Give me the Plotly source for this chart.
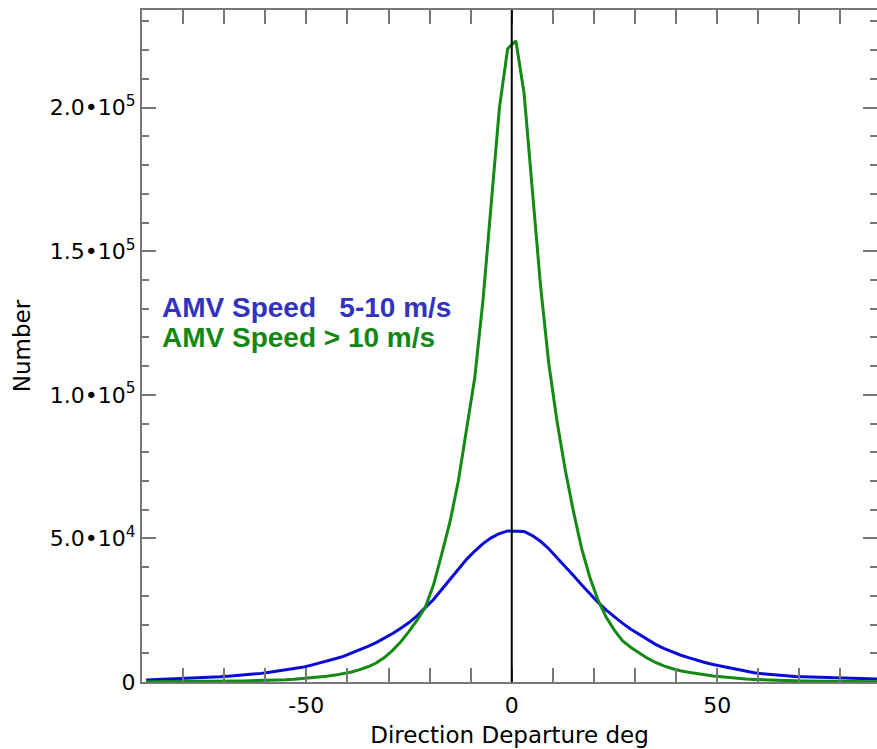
import plotly.graph_objects as go

# bin centres (deg)
direction = list(range(-89, 90, 2))

# AMV speed 5-10 m/s
count_slow = [
    700, 800, 950, 1050, 1200, 1350, 1450, 1550, 1700, 1800,
    2000, 2200, 2400, 2700, 3000, 3400, 3800, 4200, 4700, 5100,
    5800, 6500, 7300, 8100, 8900, 10000, 11200, 12400, 13700, 15200,
    16900, 18700, 20700, 23100, 25800, 28800, 32300, 35900, 39500, 42700,
    45600, 48200, 50200, 51700, 52600,
    52600, 52400, 51000, 49000, 46400, 43400, 40300, 37100, 33900, 30700,
    27700, 25000, 22600, 20400, 18400, 16600, 14800, 13100, 11700, 10500,
    9400, 8500, 7600, 6800, 6100, 5500, 4800, 4200, 3700, 3200,
    2900, 2600, 2300, 2100, 1950, 1800, 1700, 1600, 1500, 1450,
    1400, 1300, 1200, 1100, 1000,
]

# AMV speed > 10 m/s
count_fast = [
    100, 100, 120, 130, 150, 170, 190, 210, 240, 270,
    300, 340, 390, 440, 500, 600, 700, 800, 950, 1150,
    1400, 1700, 2000, 2400, 2900, 3500, 4300, 5300, 6600, 8500,
    11000, 14000, 17600, 21600, 26200, 34000, 44800, 56000, 70000, 88000,
    106000, 133000, 168000, 200000, 220500,
    223300, 205000, 170000, 138000, 111000, 91000, 74000, 59500, 46500, 36500,
    28500, 22500, 18000, 14300, 12000, 10000, 8300, 6800, 5600, 4700,
    3900, 3400, 2900, 2400, 2100, 1800, 1500, 1300, 1050, 900,
    750, 600, 500, 450, 400, 350, 300, 270, 240, 200,
    180, 160, 140, 120, 100,
]

x_tickvals = [-50, 0, 50]
x_ticktext = ["-50", "0", "50"]
y_tickvals = [0, 50000, 100000, 150000, 200000]
y_ticktext = ["0", "5.0•10<sup>4</sup>", "1.0•10<sup>5</sup>",
              "1.5•10<sup>5</sup>", "2.0•10<sup>5</sup>"]

labels = ["AMV Speed   5-10 m/s", "AMV Speed > 10 m/s"]

BLUE = "#0a0ad6"
GREEN = "#138a13"
AXIS = "#777777"
FONT = "DejaVu Sans"

fig = go.Figure()
fig.add_trace(go.Scatter(x=direction, y=count_slow, mode="lines",
                         line=dict(color=BLUE, width=3), showlegend=False))
fig.add_trace(go.Scatter(x=direction, y=count_fast, mode="lines",
                         line=dict(color=GREEN, width=3), showlegend=False))
# dummy trace so the right-hand tick axis gets drawn
fig.add_trace(go.Scatter(x=[None], y=[None], yaxis="y2", showlegend=False))

fig.add_vline(x=0, line=dict(color="black", width=2))

fig.add_annotation(x=0.024, y=0.558, xref="paper", yref="paper", xanchor="left",
                   text=f"<b>{labels[0]}</b>", showarrow=False,
                   font=dict(family="Liberation Sans", size=28, color="#3232c0"))
fig.add_annotation(x=0.024, y=0.512, xref="paper", yref="paper", xanchor="left",
                   text=f"<b>{labels[1]}</b>", showarrow=False,
                   font=dict(family="Liberation Sans", size=28, color="#128712"))

fig.update_layout(
    width=877, height=749,
    margin=dict(l=142, r=0, t=10, b=67),
    paper_bgcolor="white", plot_bgcolor="white",
    font=dict(family=FONT, size=22, color="black"),
    xaxis=dict(
        range=[-90, 88.9], tickvals=x_tickvals, ticktext=x_ticktext,
        ticks="inside", ticklen=14, tickwidth=1.5, tickcolor=AXIS,
        minor=dict(dtick=10, tick0=0, ticks="inside", ticklen=7,
                   tickwidth=1.5, tickcolor=AXIS),
        showline=True, linecolor=AXIS, linewidth=2, mirror="allticks",
        showgrid=False, zeroline=False, ticklabelstandoff=3,
        automargin=False,
        title=dict(text="Direction Departure deg", standoff=9,
                   font=dict(size=23)),
    ),
    yaxis=dict(
        range=[0, 234000], tickvals=y_tickvals, ticktext=y_ticktext,
        ticks="inside", ticklen=14, tickwidth=1.5, tickcolor=AXIS,
        minor=dict(dtick=10000, tick0=0, ticks="inside", ticklen=7,
                   tickwidth=1.5, tickcolor=AXIS),
        showline=True, linecolor=AXIS, linewidth=2,
        showgrid=False, zeroline=False, ticklabelstandoff=0,
        automargin=False,
        title=dict(text="Number", standoff=13, font=dict(size=23)),
    ),
    yaxis2=dict(
        overlaying="y", side="right", matches="y",
        tickvals=y_tickvals, showticklabels=False,
        ticks="inside", ticklen=14, tickwidth=1.5, tickcolor=AXIS,
        minor=dict(dtick=10000, tick0=0, ticks="inside", ticklen=7,
                   tickwidth=1.5, tickcolor=AXIS),
        showline=False, showgrid=False, zeroline=False, automargin=False,
    ),
)

# drop the page's default body margin so the figure sits at the window origin
fig.write_html("out.html", config={"displayModeBar": False},
               post_script="document.body.style.margin='0';")
